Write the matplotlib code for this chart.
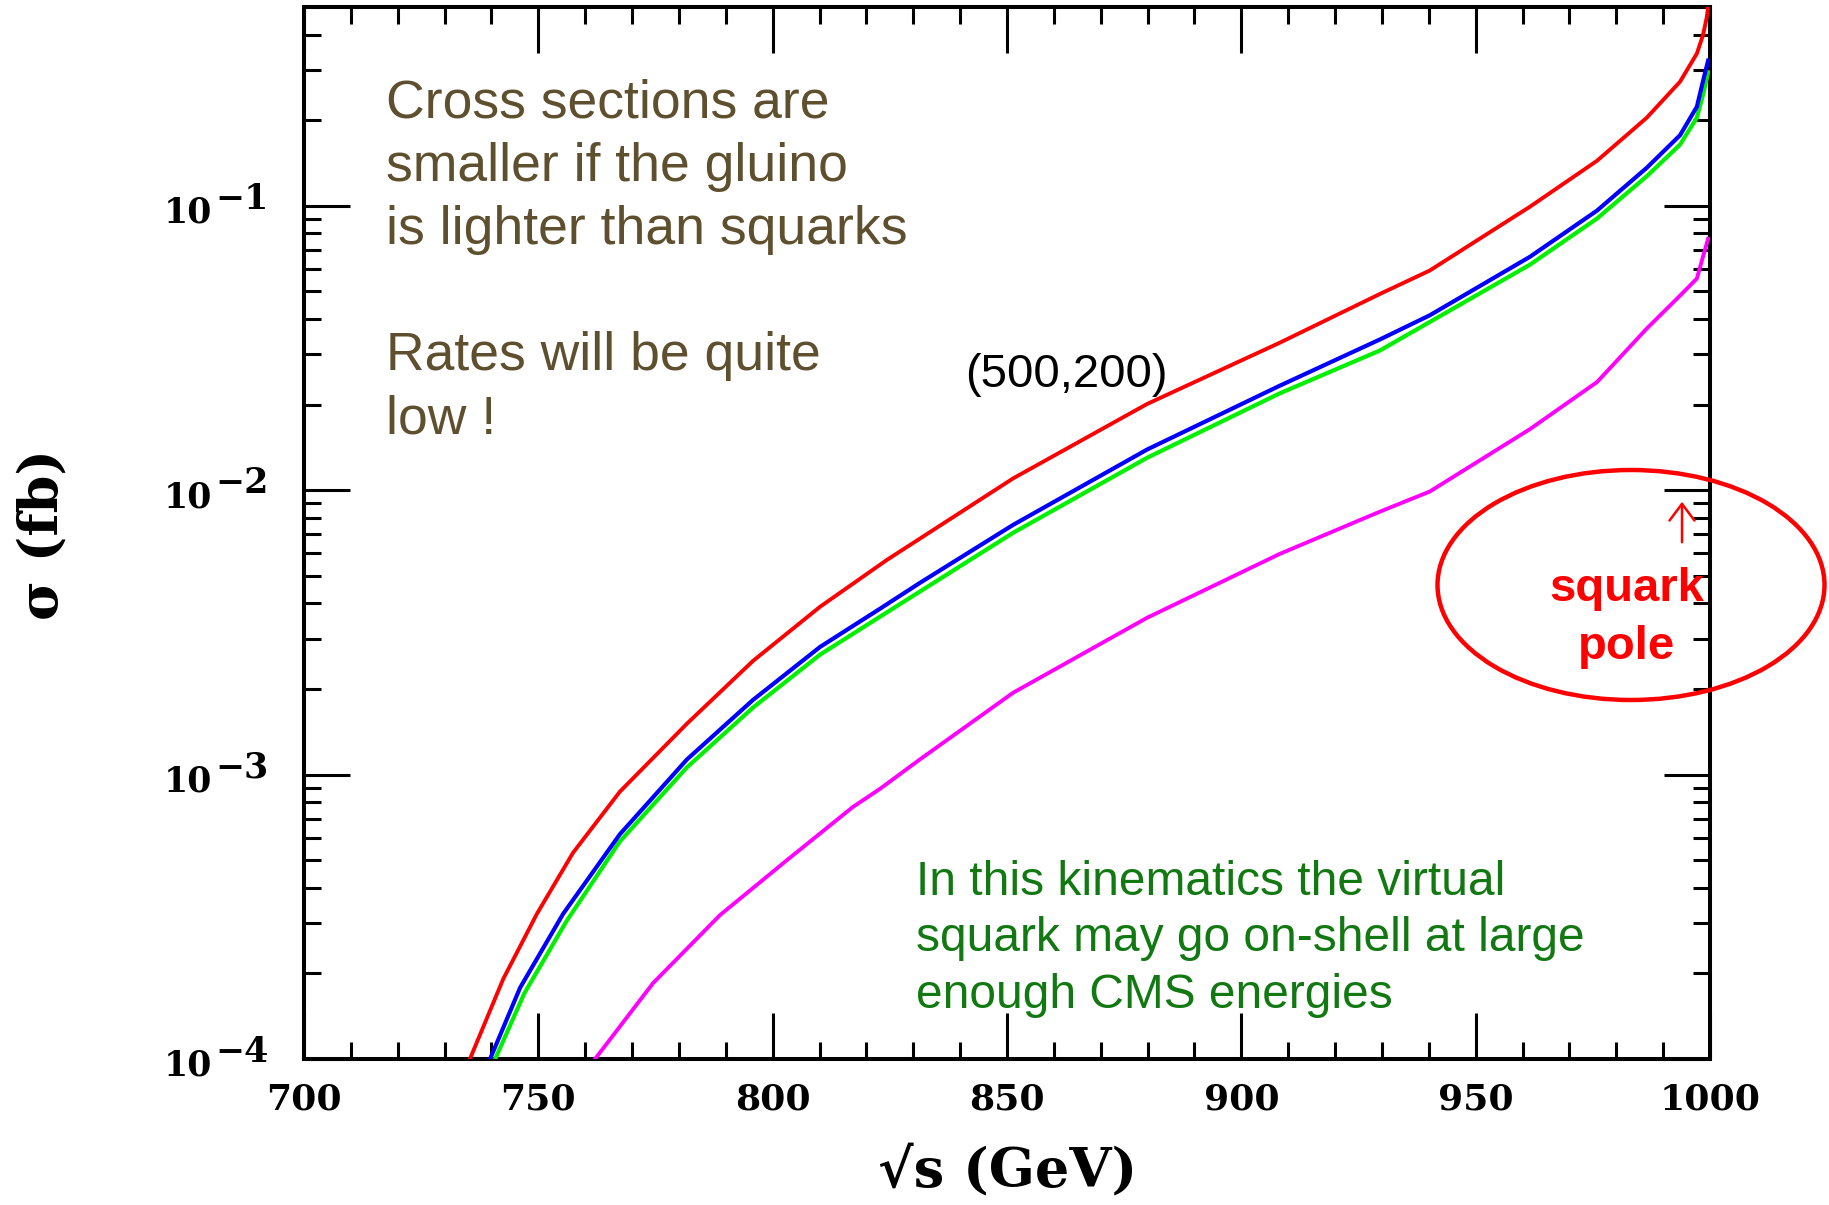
import matplotlib
matplotlib.use('Agg')
import matplotlib.pyplot as plt
from matplotlib.patches import Ellipse
from matplotlib.ticker import FixedLocator, NullFormatter

# sqrt(s) in GeV and sigma in fb
red_e = [735.4, 742.5, 749.7, 757.4, 767.4, 781.7, 795.8, 810.1, 824.4, 851.3, 879.9,
         908.2, 929.6, 940.2, 961.6, 975.9, 986.5, 993.6, 997.2, 998.5, 999.3, 999.7]
red_sig = [1.00e-4, 1.91e-4, 3.24e-4, 5.31e-4, 8.71e-4, 1.51e-3, 2.51e-3, 3.89e-3, 5.69e-3,
           1.10e-2, 2.01e-2, 3.30e-2, 4.90e-2, 5.92e-2, 9.93e-2, 0.144, 0.204, 0.273,
           0.343, 0.398, 0.459, 0.513]

blue_e = [739.7, 746.1, 755.3, 767.4, 781.7, 795.8, 810.1, 822.9, 831.4, 851.3, 879.9,
          908.2, 929.6, 940.2, 961.6, 975.9, 986.5, 993.6, 997.2, 998.5, 999.6]
blue_sig = [1.00e-4, 1.78e-4, 3.24e-4, 6.17e-4, 1.13e-3, 1.83e-3, 2.81e-3, 3.83e-3, 4.72e-3,
            7.55e-3, 1.39e-2, 2.33e-2, 3.39e-2, 4.12e-2, 6.62e-2, 9.62e-2, 0.136, 0.177,
            0.223, 0.274, 0.324]

green_e = [740.8, 747.0, 756.0, 767.4, 781.7, 795.8, 810.1, 822.9, 851.3, 879.9, 908.2,
           929.6, 961.6, 975.9, 986.5, 993.6, 997.2, 998.5, 999.6]
green_sig = [1.00e-4, 1.70e-4, 3.05e-4, 5.82e-4, 1.06e-3, 1.72e-3, 2.64e-3, 3.59e-3, 7.08e-3,
             1.30e-2, 2.19e-2, 3.10e-2, 6.21e-2, 9.02e-2, 0.127, 0.164, 0.204, 0.245, 0.295]

mag_e = [762.1, 774.5, 788.8, 803.1, 817.1, 822.9, 831.4, 851.3, 879.9, 908.2, 929.6,
         940.2, 961.6, 975.9, 986.5, 993.6, 997.2, 998.5, 999.6]
mag_sig = [1.00e-4, 1.85e-4, 3.21e-4, 5.01e-4, 7.69e-4, 8.91e-4, 1.13e-3, 1.94e-3, 3.56e-3,
           5.97e-3, 8.41e-3, 9.89e-3, 1.64e-2, 2.40e-2, 3.70e-2, 4.83e-2, 5.55e-2, 6.62e-2,
           7.66e-2]

x_major = [700, 750, 800, 850, 900, 950, 1000]
x_minor = list(range(700, 1001, 10))
y_major = [1e-4, 1e-3, 1e-2, 1e-1]
y_exponents = ['\u22124', '\u22123', '\u22122', '\u22121']

note_lines = ['Cross sections are', 'smaller if the gluino', 'is lighter than squarks',
              'Rates will be quite', 'low !']
green_lines = ['In this kinematics the virtual', 'squark may go on-shell at large',
               'enough CMS energies']

W, H = 1829, 1205
TICKFONT = 'DejaVu Serif'

fig = plt.figure(figsize=(W / 100, H / 100), dpi=100)
ax = fig.add_axes([304 / W, 1 - 1059 / H, 1406 / W, 1052 / H])

ax.plot(red_e, red_sig, color='#ff0000', lw=2.8, zorder=3)
ax.plot(green_e, green_sig, color='#00f000', lw=3.0, zorder=3)
ax.plot(blue_e, blue_sig, color='#0000ff', lw=3.0, zorder=4)
ax.plot(mag_e, mag_sig, color='#ff00ff', lw=2.8, zorder=3)

ax.set_yscale('log')
ax.set_xlim(700, 1000)
ax.set_ylim(1e-4, 0.5)

ax.xaxis.set_major_locator(FixedLocator(x_major))
ax.xaxis.set_minor_locator(FixedLocator(x_minor))
ax.set_xticklabels([str(v) for v in x_major])
ax.yaxis.set_major_locator(FixedLocator(y_major))
ax.yaxis.set_major_formatter(NullFormatter())
y_minor = [m * 10.0 ** k for k in range(-4, 0) for m in range(2, 10)]
ax.yaxis.set_minor_locator(FixedLocator(y_minor))
ax.yaxis.set_minor_formatter(NullFormatter())

for s in ax.spines.values():
    s.set_linewidth(2.9)
ax.tick_params(which='both', direction='in', top=True, right=True, width=2.2)
ax.tick_params(which='major', length=33)
ax.tick_params(which='minor', length=12)
ax.tick_params(axis='x', which='major', pad=17)
for lab in ax.get_xticklabels():
    lab.set_fontfamily(TICKFONT)
    lab.set_fontweight('bold')
    lab.set_fontsize(26)

# y tick labels drawn as "10" plus a big raised exponent, like the original
ytrans = ax.get_yaxis_transform()
for val, ex in zip(y_major, y_exponents):
    ax.annotate('10', xy=(0, val), xycoords=ytrans, xytext=(-66.2, -12.2),
                textcoords='offset points', ha='right', va='baseline',
                family=TICKFONT, fontweight='bold', fontsize=25, annotation_clip=False)
    ax.annotate(ex, xy=(0, val), xycoords=ytrans, xytext=(-64.1, -2.0),
                textcoords='offset points', ha='left', va='baseline',
                family=TICKFONT, fontweight='bold', fontsize=25, annotation_clip=False)

# axis titles
fig.text(1008 / W, 1 - 1171 / H, '\u221as (GeV)', ha='center', va='center',
         family=TICKFONT, fontweight='bold', fontsize=39)
fig.text(43 / W, 1 - 535 / H, '\u03c3 (fb)', ha='center', va='center', rotation=90,
         family=TICKFONT, fontweight='bold', fontsize=39)

# annotations
note_base = [118, 181, 244, 370, 433]
for txt, yb in zip(note_lines, note_base):
    fig.text(386 / W, 1 - yb / H, txt, ha='left', va='baseline', color='#5e4f2e',
             family='Liberation Sans', fontsize=38.5)

green_base = [895, 951, 1008]
for txt, yb in zip(green_lines, green_base):
    fig.text(916 / W, 1 - yb / H, txt, ha='left', va='baseline', color='#127812',
             family='Liberation Sans', fontsize=34.5)

fig.text(965 / W, 1 - 387 / H, '(500,200)', ha='left', va='baseline', color='black',
         family='Liberation Sans', fontsize=34)

fig.text(1627 / W, 1 - 601 / H, 'squark', ha='center', va='baseline', color='#ff0000',
         family='Liberation Sans', fontweight='bold', fontsize=34, zorder=6)
fig.text(1627 / W, 1 - 659 / H, 'pole', ha='center', va='baseline', color='#ff0000',
         family='Liberation Sans', fontweight='bold', fontsize=34, zorder=6)

ax.annotate('', xy=(1682, H - 499), xytext=(1682, H - 545), xycoords='figure pixels',
            textcoords='figure pixels',
            arrowprops=dict(arrowstyle='->,head_length=0.4,head_width=0.3',
                            color='#ff0000', lw=1.8, mutation_scale=30))

ell = Ellipse((1631 / W, 1 - 585 / H), 387 / W, 230 / H, transform=fig.transFigure,
              fill=False, edgecolor='#ff0000', lw=3.2, zorder=10)
fig.add_artist(ell)

fig.savefig('out.png', dpi=100)
